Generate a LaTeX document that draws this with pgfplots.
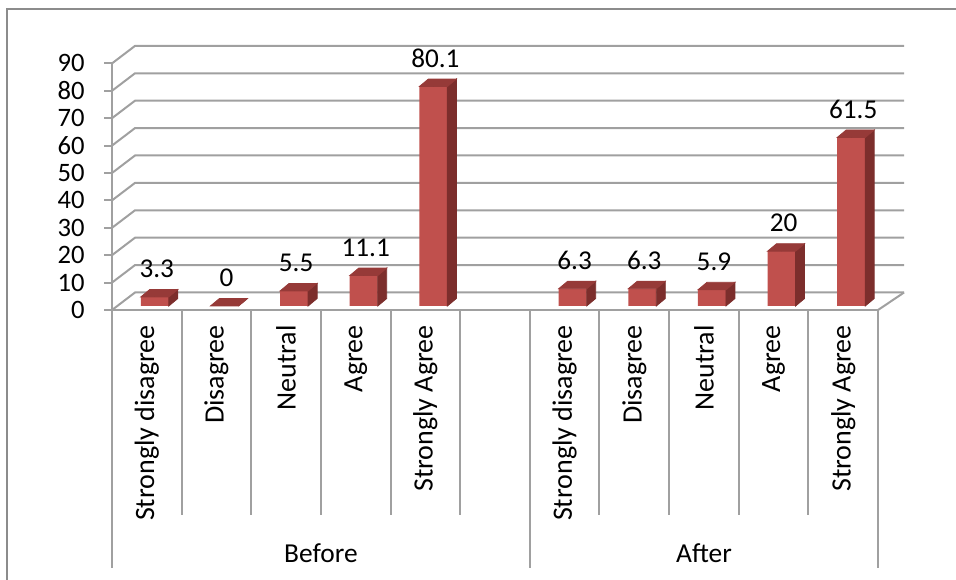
\documentclass[border=0pt]{standalone}
\usepackage{fontspec}
\setmainfont{Carlito}
\usepackage{pgfplots}
\usepackage{pgfplotstable}
\pgfplotsset{compat=1.18}
\definecolor{gridc}{RGB}{160,160,160}
\definecolor{framec}{RGB}{140,140,140}
\definecolor{barfront}{RGB}{192,80,77}
\definecolor{barside}{RGB}{124,46,44}
\definecolor{bartop}{RGB}{150,58,56}
\pgfplotstableread{
x v
0.5 3.3
1.5 0
2.5 5.5
3.5 11.1
4.5 80.1
6.5 6.3
7.5 6.3
8.5 5.9
9.5 20
10.5 61.5
}\data
\begin{document}
\begin{tikzpicture}[font=\fontsize{13.3bp}{15bp}\selectfont]
\useasboundingbox (0,0) rectangle (478bp,290bp);
\draw[framec, line width=1bp] (3.5bp,0bp) -- (3.5bp,285.5bp) -- (478bp,285.5bp);
\begin{axis}[
  at={(56bp,135bp)}, anchor=south west,
  x=34.82bp, y=1.37bp,
  xmin=0, xmax=11, ymin=0, ymax=90,
  clip=false,
  axis lines*=left,
  axis line style={gridc, line width=1bp},
  ytick={0,10,20,30,40,50,60,70,80,90},
  tick align=outside,
  major tick length=4bp,
  ytick style={gridc, line width=1bp},
  xtick={0.5,1.5,2.5,3.5,4.5,6.5,7.5,8.5,9.5,10.5},
  xticklabels={Strongly disagree,Disagree,Neutral,Agree,Strongly Agree,Strongly disagree,Disagree,Neutral,Agree,Strongly Agree},
  xtick style={draw=none},
  xticklabel style={rotate=90, anchor=east, inner sep=0pt, xshift=-3.5bp,
    font=\fontsize{14bp}{16bp}\selectfont},
  yticklabel style={anchor=east, inner sep=0pt, xshift=-9.5bp},
  /pgf/number format/assume math mode=true,
]
\pgfplotsinvokeforeach{0,10,20,30,40,50,60,70,80,90}{
  \draw[gridc, line width=1bp] (axis cs:0,#1) -- ++(11.5bp,8.75bp) -- ++(384.5bp,0bp);
}
\draw[gridc, line width=1bp] (axis cs:11,0) -- ++(13bp,8.75bp);
\pgfplotsinvokeforeach{1,2,3,4,5,7,8,9,10}{
  \draw[gridc, line width=1bp] (axis cs:#1,0) -- ++(0bp,-102.5bp);
}
\pgfplotsinvokeforeach{0,6,11}{
  \draw[gridc, line width=1bp] (axis cs:#1,0) -- ++(0bp,-129bp);
}
\node[yshift=-121.5bp, font=\fontsize{13.7bp}{15bp}\selectfont] at (axis cs:3,0) {Before};
\node[yshift=-121.5bp, font=\fontsize{13.7bp}{15bp}\selectfont] at (axis cs:8.5,0) {After};
\addplot[ybar, bar width=14bp, bar shift=0pt, fill=barfront, draw=none,
  xshift=4bp, yshift=2bp,
  nodes near coords,
  nodes near coords style={anchor=center, yshift=14bp, xshift=1bp, text=black,
    font=\fontsize{13.6bp}{15bp}\selectfont}]
  table[x=x, y=v] {\data};
\addplot[scatter, only marks, mark=*, mark size=0pt,
  mark options={draw=none, fill=none},
  xshift=4bp, yshift=2bp,
  visualization depends on={rawy \as \val},
  scatter/@pre marker code/.code={%
    \pgfkeys{/pgf/fpu=false}%
    \pgfmathsetlengthmacro\h{\val*1.37bp}%
    \fill[barside] (7bp,0pt) -- (11.5bp,3.75bp) -- (11.5bp,3.75bp-\h) -- (7bp,-\h) -- cycle;
    \fill[bartop] (-7bp,0pt) -- (7bp,0pt) -- (11.5bp,3.75bp) -- (-2.5bp,3.75bp) -- cycle;
  },
  scatter/@post marker code/.code={}]
  table[x=x, y=v] {\data};
\end{axis}
\end{tikzpicture}
\end{document}
